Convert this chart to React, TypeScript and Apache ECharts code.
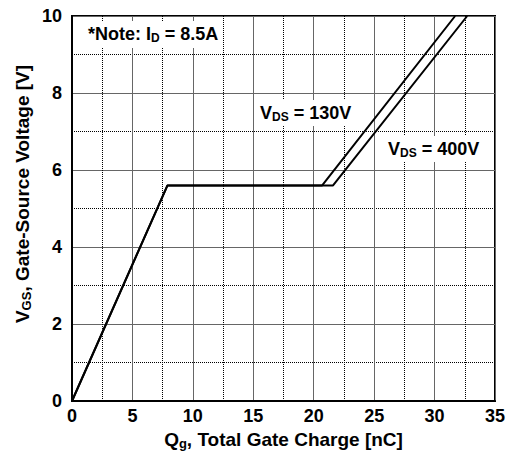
import React, { useEffect, useRef } from "react";
import * as echarts from "echarts";

// Data (Qg [nC], VGS [V])
const qg130 = [0, 7.9, 20.7, 31.7];
const vgs130 = [0, 5.6, 5.6, 10];
const qg400 = [0, 7.9, 21.6, 32.7];
const vgs400 = [0, 5.6, 5.6, 10];
const xTicks = [0, 5, 10, 15, 20, 25, 30, 35];
const yTicks = [0, 2, 4, 6, 8, 10];

const FONT = "Liberation Sans, Arial, sans-serif";

export default function App() {
  const ref = useRef<HTMLDivElement>(null);
  useEffect(() => {
    document.body.style.margin = "0";
    const chart = echarts.init(ref.current!, undefined, { renderer: "svg" });
    const pts = (xs: number[], ys: number[]) => xs.map((x, i) => [x, ys[i]]);
    const bold = { fontFamily: FONT, fontWeight: "bold" as const, color: "#000" };
    const titleRich = {
      a: { ...bold, fontSize: 19 },
      s: { ...bold, fontSize: 13, verticalAlign: "bottom", padding: [9, 0, 0, 0] },
    };
    const noteRich = {
      a: { ...bold, fontSize: 18 },
      b: { ...bold, fontSize: 12, verticalAlign: "bottom", padding: [9, 0, 0, 0] },
    };
    chart.setOption({
      animation: false,
      backgroundColor: "#fff",
      grid: {
        left: 72,
        right: 15,
        top: 16,
        bottom: 53,
        show: true,
        borderColor: "#000",
        borderWidth: 2,
        containLabel: false,
        outerBoundsMode: "none",
      },
      xAxis: {
        type: "value",
        min: xTicks[0],
        max: xTicks[xTicks.length - 1],
        interval: 5,
        axisLine: { show: true, lineStyle: { color: "#000", width: 2 } },
        axisTick: { show: false },
        axisLabel: { ...bold, fontSize: 18, margin: 6 },
        splitLine: { show: true, lineStyle: { color: "#666", width: 1 } },
        minorTick: { show: false, splitNumber: 2 },
        minorSplitLine: { show: true, lineStyle: { color: "#000", width: 1, type: [1, 1] } },
        name: "{a|Q}{s|g}{a|, Total Gate Charge [nC]}",
        nameLocation: "middle",
        nameGap: 27,
        nameTextStyle: { ...bold, fontSize: 19, rich: titleRich },
      },
      yAxis: {
        type: "value",
        min: yTicks[0],
        max: yTicks[yTicks.length - 1],
        interval: 2,
        axisLine: { show: true, lineStyle: { color: "#000", width: 2 } },
        axisTick: { show: false },
        axisLabel: { ...bold, fontSize: 18, margin: 10 },
        splitLine: { show: true, lineStyle: { color: "#666", width: 1 } },
        minorTick: { show: false, splitNumber: 2 },
        minorSplitLine: { show: true, lineStyle: { color: "#000", width: 1, type: [1, 1] } },
      },
      series: [
        {
          type: "line",
          name: "VDS = 130V",
          data: pts(qg130, vgs130),
          symbol: "none",
          lineStyle: { color: "#000", width: 2 },
          z: 5,
        },
        {
          type: "line",
          name: "VDS = 400V",
          data: pts(qg400, vgs400),
          symbol: "none",
          lineStyle: { color: "#000", width: 2 },
          z: 5,
        },
      ],
      graphic: [
        {
          type: "text",
          x: 22,
          y: 194,
          rotation: Math.PI / 2,
          z: 10,
          style: {
            text: "{a|V}{s|GS}{a|, Gate-Source Voltage [V]}",
            align: "center",
            verticalAlign: "middle",
            rich: titleRich,
          },
        },
        {
          type: "text",
          left: 84,
          top: 21,
          z: 10,
          style: {
            text: "{a|*Note: I}{b|D}{a| = 8.5A}",
            backgroundColor: "#fff",
            padding: [2, 4, 4, 4],
            rich: noteRich,
          },
        },
        {
          type: "text",
          left: 257,
          top: 100,
          z: 10,
          style: {
            text: "{a|V}{b|DS}{a| = 130V}",
            backgroundColor: "#fff",
            padding: [2, 3, 3, 3],
            rich: noteRich,
          },
        },
        {
          type: "text",
          left: 385,
          top: 136,
          z: 10,
          style: {
            text: "{a|V}{b|DS}{a| = 400V}",
            backgroundColor: "#fff",
            padding: [2, 3, 3, 3],
            rich: noteRich,
          },
        },
      ],
    });
    return () => chart.dispose();
  }, []);
  return <div ref={ref} style={{ width: 510, height: 454 }} />;
}
